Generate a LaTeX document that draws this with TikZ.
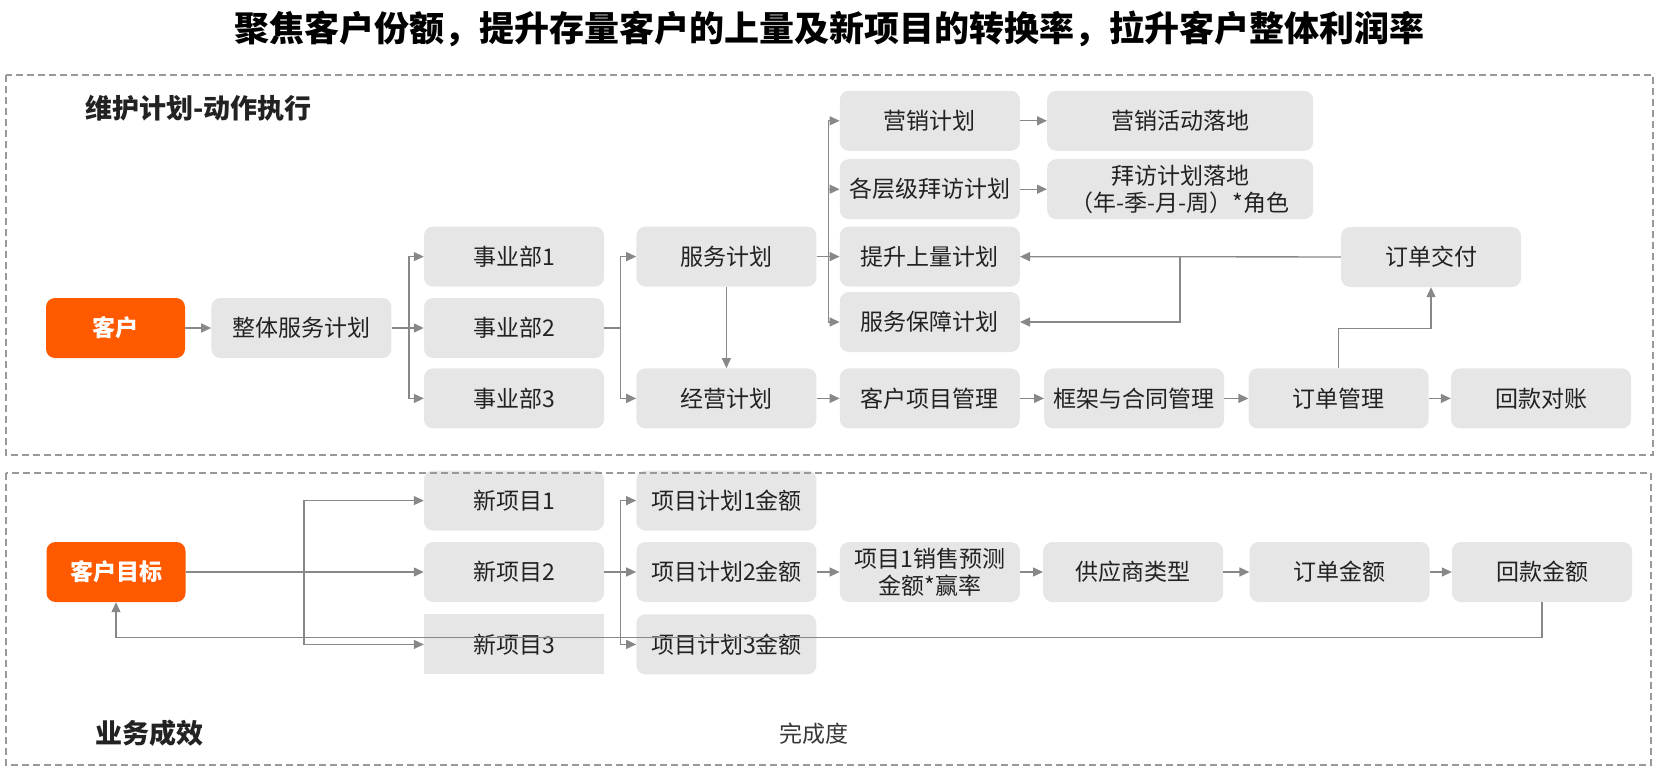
\documentclass[tikz,border=0pt]{standalone}
\usepackage{fontspec}
\setmainfont{Noto Sans CJK SC}
\usepackage{xcolor}
\usepackage{tikz}
\usetikzlibrary{arrows.meta, positioning}

\definecolor{boxgray}{HTML}{E6E6E6}
\definecolor{linegray}{HTML}{888888}
\definecolor{framegray}{HTML}{999999}
\definecolor{keyorange}{HTML}{FF5A00}
\definecolor{textdark}{HTML}{222222}

\begin{document}
\begin{tikzpicture}[
      x=1pt, y=-1pt,
      node distance=10pt and 24pt,
      box/.style={fill=boxgray, rounded corners=9pt, align=center, inner sep=2pt,
                  minimum height=60pt, minimum width=180pt, text=textdark,
                  font=\fontsize{23}{27}\selectfont},
      widebox/.style={box, minimum width=266pt},
      squarebox/.style={box, rounded corners=0pt},
      keynode/.style={box, fill=keyorange, text=white, minimum width=139pt,
                  font=\fontsize{23}{27}\selectfont\bfseries},
      heading/.style={anchor=west, text=textdark, font=\fontsize{27}{31}\selectfont\bfseries},
      arrow/.style={-{Triangle[length=10pt, width=9pt]}, line width=1.3pt, draw=linegray},
      line/.style={line width=1.3pt, draw=linegray},
      frame/.style={draw=framegray, line width=1.3pt, dash pattern=on 7pt off 4pt}
    ]
    \useasboundingbox (0,0) rectangle (1672,782);

    \node[font=\fontsize{35}{40}\selectfont\bfseries] (title) at (829,29)
      {聚焦客户份额，提升存量客户的上量及新项目的转换率，拉升客户整体利润率};
    \node[heading] (toplabel) at (82,108) {维护计划-动作执行};
    \node[heading] (bottomlabel) at (92,733) {业务成效};
    \node[anchor=west, text=textdark!90, font=\fontsize{23}{27}\selectfont] (progress) at (776,734) {完成度};

    \node[keynode] (client) at (115.5,328) {客户};
    \node[box, right=26pt of client] (overall) {整体服务计划};
    \node[box] (bu2) at (514,328) {事业部2};
    \node[box, above=11pt of bu2] (bu1) {事业部1};
    \node[box, below=10pt of bu2] (bu3) {事业部3};
    \node[box, right=32pt of bu1] (service) {服务计划};
    \node[box, right=32pt of bu3] (business) {经营计划};
    \node[box, right=23pt of service] (upsell) {提升上量计划};
    \node[box, above=7pt of upsell] (visits) {各层级拜访计划};
    \node[box, above=8pt of visits] (marketing) {营销计划};
    \node[box, below=5pt of upsell] (support) {服务保障计划};
    \node[widebox, right=27pt of marketing] (mktland) {营销活动落地};
    \node[widebox, right=27pt of visits] (visitland) {拜访计划落地\\（年-季-月-周）*角色};
    \node[box, right=23pt of business] (projmgmt) {客户项目管理};
    \node[box, right=of projmgmt] (contract) {框架与合同管理};
    \node[box, right=of contract] (ordermgmt) {订单管理};
    \node[box, right=22pt of ordermgmt] (payrecon) {回款对账};
    \node[box] (delivery) at (1431,257) {订单交付};

    \node[keynode] (target) at (116,572) {客户目标};
    \node[box] (new2) at (514,572) {新项目2};
    \node[box, above=11pt of new2] (new1) {新项目1};
    \node[squarebox, below=12pt of new2] (new3) {新项目3};
    \node[box, right=32pt of new1] (amt1) {项目计划1金额};
    \node[box, right=32pt of new2] (amt2) {项目计划2金额};
    \node[box, right=32pt of new3] (amt3) {项目计划3金额};
    \node[box, right=23pt of amt2] (forecast) {项目1销售预测\\金额*赢率};
    \node[box, right=23pt of forecast] (supplier) {供应商类型};
    \node[box, right=26pt of supplier] (orderamt) {订单金额};
    \node[box, right=22pt of orderamt] (payamt) {回款金额};

    \draw[arrow] (client) -- (overall);
    \draw[line] (overall.east) -- ++(17.5,0) coordinate (split1);
    \draw[arrow] (split1) |- (bu1);
    \draw[arrow] (split1) -- (bu2);
    \draw[arrow] (split1) |- (bu3);
    \draw[line] (bu2.east) -- ++(16,0) coordinate (split2);
    \draw[arrow] (split2) |- (service);
    \draw[arrow] (split2) |- (business);
    \draw[arrow] (service) -- (business);
    \draw[line] (service.east) -- ++(12,0) coordinate (split3);
    \draw[arrow] (split3) |- (marketing);
    \draw[arrow] (split3) |- (visits);
    \draw[arrow] (split3) -- (upsell);
    \draw[arrow] (split3) |- (support);
    \draw[arrow] (marketing) -- (mktland);
    \draw[arrow] (visits) -- (visitland);
    \draw[arrow] (business) -- (projmgmt);
    \draw[arrow] (projmgmt) -- (contract);
    \draw[arrow] (contract) -- (ordermgmt);
    \draw[arrow] (ordermgmt) -- (payrecon);
    \draw[arrow] (ordermgmt.north) -- ++(0,-40) -| (delivery.south);
    \draw[arrow] (delivery) -- (upsell);
    \coordinate (split4) at (1180,257);
    \draw[arrow] (split4) |- (support);

    \draw[arrow] (target) -- (new2);
    \coordinate (split5) at (304,572);
    \draw[arrow] (split5) |- (new1);
    \draw[arrow] (split5) |- (new3);
    \draw[line] (new2.east) -- ++(16,0) coordinate (split6);
    \draw[arrow] (split6) |- (amt1);
    \draw[arrow] (split6) -- (amt2);
    \draw[arrow] (split6) |- (amt3);
    \draw[arrow] (amt2) -- (forecast);
    \draw[arrow] (forecast) -- (supplier);
    \draw[arrow] (supplier) -- (orderamt);
    \draw[arrow] (orderamt) -- (payamt);
    \draw[arrow] (payamt.south) -- ++(0,35) -| (target.south);

    \draw[frame] (6,75) rectangle (1653,455);
    \draw[frame] (6,473) rectangle (1651,765);
  \end{tikzpicture}
\end{document}
